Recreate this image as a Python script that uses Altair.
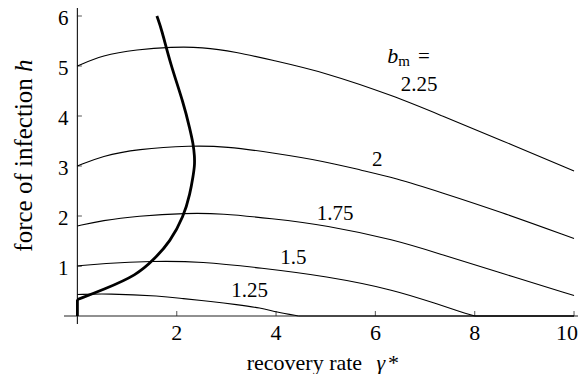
import altair as alt
import pandas as pd

# ---- data ----
bm_names = ["2.25", "2", "1.75", "1.5", "1.25"]
g_225 = [0, 0.5, 1.2, 1.9, 2.5, 3.2, 3.9, 5.0, 6.4, 7.3, 8.5, 10]
h_225 = [5.0, 5.22, 5.33, 5.38, 5.38, 5.28, 5.12, 4.87, 4.39, 4.02, 3.53, 2.9]
g_200 = [0, 0.5, 1.2, 2.3, 3.0, 3.9, 5.0, 5.7, 6.4, 7.3, 8.5, 10]
h_200 = [3.0, 3.2, 3.34, 3.41, 3.39, 3.27, 3.09, 2.92, 2.76, 2.48, 2.09, 1.55]
g_175 = [0, 0.5, 1.2, 2.2, 2.9, 3.9, 5.0, 6.4, 7.3, 8.5, 10]
h_175 = [1.8, 1.91, 2.0, 2.06, 2.05, 1.95, 1.82, 1.52, 1.24, 0.87, 0.41]
g_150 = [0, 0.5, 1.5, 2.5, 3.7, 5.0, 6.4, 7.3, 7.7, 8.0]
h_150 = [1.0, 1.05, 1.1, 1.09, 0.96, 0.80, 0.52, 0.22, 0.09, 0.0]
g_125 = [0, 0.6, 1.7, 2.1, 2.7, 3.2, 3.7, 4.0, 4.45]
h_125 = [0.43, 0.45, 0.40, 0.35, 0.29, 0.23, 0.16, 0.08, 0.0]
# parts of the curves that lie along h = 0
tail_names = ["1.5", "1.25"]
tail_g0 = [8.0, 4.45]
tail_g1 = [10, 10]

# thick boundary curve (path order)
g_thick = [0, 0.53, 1.2, 1.54, 1.87, 2.14, 2.27, 2.33, 2.36, 2.36, 2.33, 2.27, 2.14, 1.87, 1.70, 1.60]
h_thick = [0.33, 0.53, 0.82, 1.13, 1.49, 1.99, 2.45, 2.8, 3.0, 3.2, 3.45, 3.72, 4.25, 5.05, 5.72, 6.0]
g_stem = [0, 0]
h_stem = [0, 0.33]

x_ticks = [2, 4, 6, 8, 10]
y_ticks = [1, 2, 3, 4, 5, 6]
x_tick_labels = ["2", "4", "6", "8", "10"]
y_tick_labels = ["1", "2", "3", "4", "5", "6"]

lab_text = ["2.25", "2", "1.75", "1.5", "1.25"]
lab_g = [6.88, 6.04, 5.19, 4.35, 3.47]
lab_h = [4.5, 3.0, 1.92, 1.05, 0.39]

XMIN, XMAX = -0.27, 10.08
YMIN, YMAX = -0.16, 6.16
FONT = "Liberation Serif"

rows = []
for name, gs, hs in zip(bm_names, [g_225, g_200, g_175, g_150, g_125],
                        [h_225, h_200, h_175, h_150, h_125]):
    for i, (g, h) in enumerate(zip(gs, hs)):
        rows.append({"b": name, "g": g, "h": h, "i": i})
df = pd.DataFrame(rows)
tail_rows = []
for name, a, b in zip(tail_names, tail_g0, tail_g1):
    tail_rows += [{"b": name, "g": a, "h": 0.0, "i": 0}, {"b": name, "g": b, "h": 0.0, "i": 1}]
tail_df = pd.DataFrame(tail_rows)
thick_df = pd.DataFrame({"g": g_thick, "h": h_thick, "i": range(len(g_thick))})
stem_df = pd.DataFrame({"g": g_stem, "h": h_stem, "i": [0, 1]})

XS = alt.Scale(domain=[XMIN, XMAX], nice=False, zero=False)
YS = alt.Scale(domain=[YMIN, YMAX], nice=False, zero=False)

def X(f):
    return alt.X(f, scale=XS, axis=None)

def Y(f):
    return alt.Y(f, scale=YS, axis=None)

thin = alt.Chart(df).mark_line(color="black", strokeWidth=1.1, interpolate="basis").encode(
    x=X("g:Q"), y=Y("h:Q"), detail="b:N", order="i:Q")
tails = alt.Chart(tail_df).mark_line(color="black", strokeWidth=1.1).encode(
    x=X("g:Q"), y=Y("h:Q"), detail="b:N", order="i:Q")

thick = alt.Chart(thick_df).mark_line(color="black", strokeWidth=2.8, interpolate="basis").encode(
    x=X("g:Q"), y=Y("h:Q"), order="i:Q")

stem = alt.Chart(stem_df).mark_line(color="black", strokeWidth=2.8).encode(
    x=X("g:Q"), y=Y("h:Q"), order="i:Q")

axes_df = pd.DataFrame({"x": [XMIN, 0], "x2": [XMAX, 0], "y": [0, YMIN], "y2": [0, YMAX]})
axes = alt.Chart(axes_df).mark_rule(color="#222", strokeWidth=1.2).encode(
    x=X("x:Q"), x2="x2:Q", y=Y("y:Q"), y2="y2:Q")

xt_df = pd.DataFrame({"g": x_ticks, "h": [0] * len(x_ticks), "t": x_tick_labels})
yt_df = pd.DataFrame({"g": [0] * len(y_ticks), "h": y_ticks, "t": y_tick_labels})

xticks = alt.Chart(xt_df).mark_tick(orient="vertical", size=5, thickness=1.1, color="#222", yOffset=-2.5).encode(
    x=X("g:Q"), y=Y("h:Q"))
yticks = alt.Chart(yt_df).mark_tick(orient="horizontal", size=5, thickness=1.1, color="#222", xOffset=2).encode(
    x=X("g:Q"), y=Y("h:Q"))

xlabels = alt.Chart(xt_df[xt_df.t != "10"]).mark_text(font=FONT, fontSize=22, align="center", baseline="alphabetic",
                                                      dy=24, color="black").encode(
    x=X("g:Q"), y=Y("h:Q"), text="t:N")
# last label kept inside the page's right edge
xlabel_last = alt.Chart(xt_df[xt_df.t == "10"]).mark_text(font=FONT, fontSize=22, align="right", baseline="alphabetic",
                                                          dy=24, dx=4, color="black").encode(
    x=X("g:Q"), y=Y("h:Q"), text="t:N")
ylabels = alt.Chart(yt_df).mark_text(font=FONT, fontSize=21, align="right", baseline="alphabetic", dx=-9, dy=8.5,
                                     color="black").encode(x=X("g:Q"), y=Y("h:Q"), text="t:N")

lab_df = pd.DataFrame({"g": lab_g, "h": lab_h, "t": lab_text})
clabels = alt.Chart(lab_df).mark_text(font=FONT, fontSize=21, align="center", baseline="alphabetic",
                                      color="black").encode(x=X("g:Q"), y=Y("h:Q"), text="t:N")

bm_text = ["b", "m", "="]
bm_g = [6.24, 6.46, 6.86]
bm_h = [5.06, 5.0, 5.06]
bm_size = [22, 15, 21]
bm_style = ["italic", "normal", "normal"]
bm_layers = []
for t, g, h, s, st in zip(bm_text, bm_g, bm_h, bm_size, bm_style):
    d = pd.DataFrame({"g": [g], "h": [h], "t": [t]})
    bm_layers.append(alt.Chart(d).mark_text(font=FONT, fontSize=s, fontStyle=st, align="left",
                                            baseline="alphabetic", color="black").encode(
        x=X("g:Q"), y=Y("h:Q"), text="t:N"))

one = pd.DataFrame({"a": [0]})
def txt(s, x, y, size, style="normal", angle=0, align="left"):
    return alt.Chart(one).mark_text(text=s, font=FONT, fontSize=size, fontStyle=style, angle=angle,
                                    align=align, baseline="alphabetic", color="black").encode(
        x=alt.value(x), y=alt.value(y))

titles = [
    txt("recovery rate", 182.7, 361.5, 22),
    txt("\u03b3", 312.5, 361.5, 22, "italic"),
    txt("*", 324, 361.5, 22),
    txt("force of infection", -32.3, 243.7, 25, angle=270),
    txt("h", -32.3, 63.9, 25, "italic", angle=270),
]

chart = alt.layer(axes, xticks, yticks, thin, tails, stem, thick, xlabels, xlabel_last, ylabels, clabels,
                  *bm_layers, *titles).properties(
    width=514, height=316,
    autosize=alt.AutoSizeParams(type="none"),
    padding={"left": 56, "top": 0, "right": 0, "bottom": 50},
    background="white",
).configure(font=FONT).configure_text(font=FONT).configure_view(stroke=None)

chart.save("out.html", embed_options={"renderer": "svg", "actions": False})
